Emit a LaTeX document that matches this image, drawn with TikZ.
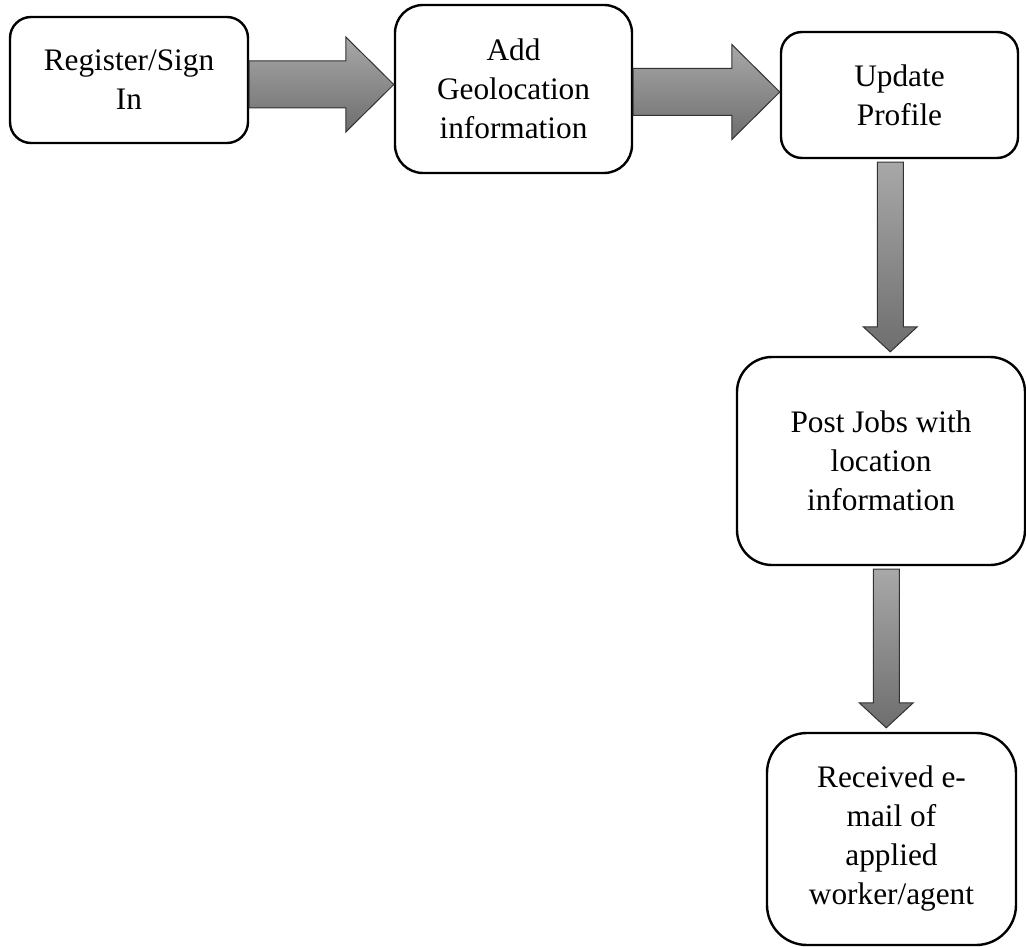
\documentclass[tikz,border=0pt]{standalone}
\usepackage{fontspec}
\setmainfont{Liberation Serif}
\usetikzlibrary{calc}
\definecolor{arrowtop}{RGB}{168, 168, 168}
\definecolor{arrowbottom}{RGB}{110, 110, 110}
\definecolor{arrowline}{RGB}{50, 50, 50}

% block arrows between two boxes
\newcommand{\hblock}[2]{%
  \draw[blockarrow] let \p1=(#1.east), \p2=(#2.west), \p3=($(#1.east)!0.5!(#2.west)$) in
    (\x1,\y3+23.5pt) -- (\x2-48pt,\y3+23.5pt) -- (\x2-48pt,\y3+47.5pt) -- (\x2,\y3)
    -- (\x2-48pt,\y3-47.5pt) -- (\x2-48pt,\y3-23.5pt) -- (\x1,\y3-23.5pt) -- cycle;}
\newcommand{\vblock}[2]{%
  \draw[blockarrow] let \p1=(#1.south), \p2=(#2.north), \p3=($(#1.south)!0.5!(#2.north)$) in
    (\x3-13pt,\y1-3pt) -- (\x3+13pt,\y1-3pt) -- (\x3+13pt,\y2+29pt) -- (\x3+27pt,\y2+29pt)
    -- (\x3,\y2+4pt) -- (\x3-27pt,\y2+29pt) -- (\x3-13pt,\y2+29pt) -- cycle;}

\begin{document}
\begin{tikzpicture}[x=1pt, y=-1pt,
  stepbox/.style={draw=black, line width=2.4pt, fill=white, align=center, inner sep=0pt,
    font=\fontsize{31.3}{39}\selectfont},
  blockarrow/.style={draw=arrowline, line width=1pt, top color=arrowtop, bottom color=arrowbottom}]
  \useasboundingbox (0,0) rectangle (1026,947);

  \node[stepbox, minimum width=238pt, minimum height=126pt, rounded corners=21pt] (reg) at (129,80) {Register/Sign\\In};
  \node[stepbox, minimum width=237pt, minimum height=168pt, rounded corners=28pt] (geo) at (513.5,89) {Add\\Geolocation\\information};
  \node[stepbox, minimum width=237pt, minimum height=126pt, rounded corners=21pt] (upd) at (899.5,95) {Update\\Profile};
  \node[stepbox, minimum width=288pt, minimum height=208pt, rounded corners=35pt] (post) at (881,461) {Post Jobs with\\location\\information};
  \node[stepbox, minimum width=249pt, minimum height=212pt, rounded corners=40pt] (rcv) at (891.5,839) {Received e-\\mail of\\applied\\worker/agent};

  \hblock{reg}{geo}
  \hblock{geo}{upd}
  \vblock{upd}{post}
  \vblock{post}{rcv}
\end{tikzpicture}
\end{document}
